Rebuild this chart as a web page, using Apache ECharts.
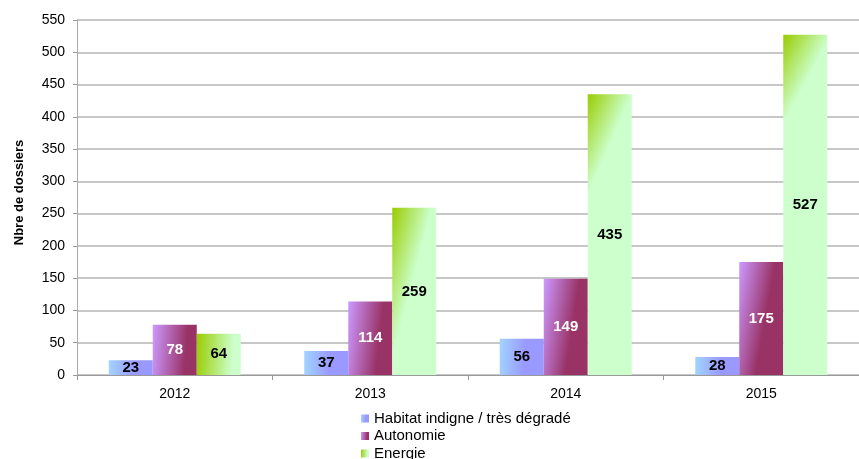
<!DOCTYPE html>
<html><head><meta charset="utf-8">
<script src="https://cdn.jsdelivr.net/npm/echarts@6/dist/echarts.min.js"></script>
<style>html,body{margin:0;padding:0;background:#fff}#c{width:859px;height:459px}</style>
</head><body><div id="c"></div>
<script>
const categories = ['2012', '2013', '2014', '2015'];
const habitat = [23, 37, 56, 28];
const autonomie = [78, 114, 149, 175];
const energie = [64, 259, 435, 527];
const seriesNames = ['Habitat indigne / très dégradé', 'Autonomie', 'Energie'];

const font = 'Liberation Sans, Arial, sans-serif';
function grad(c0, c1, stop) {
  return new echarts.graphic.LinearGradient(0, 0, 1, 0.07, [{offset: 0, color: c0}, {offset: stop, color: c1}, {offset: 1, color: c1}]);
}
const colors = [
  grad('#a2d4ff', '#9999ff', 0.6),
  grad('#cc99ff', '#993366', 0.8),
  grad('#99cc00', '#ccffcc', 0.85)
];
const legendColors = [grad('#a2d4ff', '#9999ff', 0.6), grad('#cc99ff', '#993366', 0.8), grad('#99cc00', '#ccffcc', 0.85)];
const labelColors = ['#000', '#fff', '#000'];
const data = [habitat, autonomie, energie];

const chart = echarts.init(document.getElementById('c'), null, {renderer: 'canvas'});
chart.setOption({
  animation: false,
  textStyle: {fontFamily: font},
  grid: {left: 77, right: 0, top: 20, bottom: 84},
  legend: seriesNames.map((n, i) => ({
    orient: 'vertical', left: 361, top: 411 + i * 17.5, padding: 0,
    itemWidth: 8, itemHeight: 8, itemGap: 0, icon: 'rect',
    textStyle: {fontSize: 15, color: '#000', fontFamily: font},
    data: [{name: n, itemStyle: {color: legendColors[i]}}]
  })),
  xAxis: {
    type: 'category', data: categories,
    axisLine: {lineStyle: {color: '#999', width: 1}},
    axisTick: {show: true, length: 5, lineStyle: {color: '#999'}},
    axisLabel: {fontSize: 14, color: '#000', margin: 12}
  },
  yAxis: {
    type: 'value', min: 0, max: 550, interval: 50,
    name: 'Nbre de dossiers', nameLocation: 'middle', nameGap: 51,
    nameTextStyle: {fontSize: 13, fontWeight: 'bold', color: '#000', padding: [0, 0, 0, 10]},
    axisLine: {show: true, lineStyle: {color: '#aaa'}},
    axisTick: {show: true, length: 4, lineStyle: {color: '#999'}},
    axisLabel: {fontSize: 14, color: '#000', margin: 12},
    splitLine: {lineStyle: {color: '#b5b5b5', width: 1.5}}
  },
  series: data.map((d, i) => ({
    name: seriesNames[i], type: 'bar', data: d,
    barWidth: 44, barGap: '0%',
    itemStyle: {color: colors[i]},
    label: {show: true, position: 'inside', fontSize: 15, fontWeight: 'bold', color: labelColors[i], fontFamily: font}
  }))
});
</script></body></html>
